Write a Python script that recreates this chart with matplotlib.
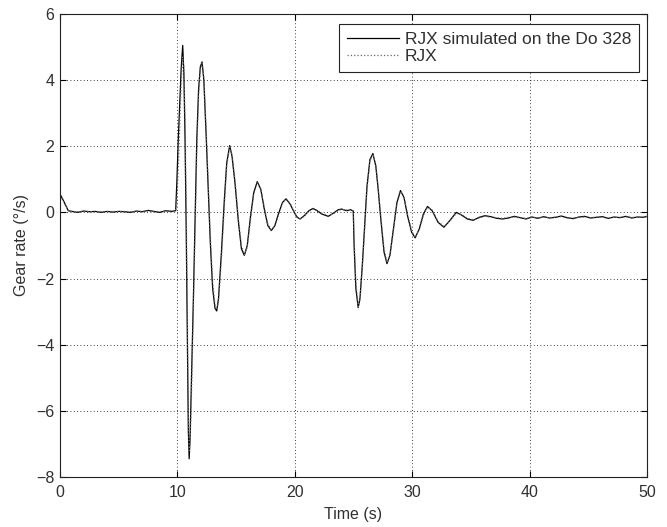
import matplotlib
matplotlib.use("Agg")
import matplotlib.pyplot as plt

plt.rcParams["font.family"] = ["Liberation Sans", "DejaVu Sans"]
plt.rcParams["font.size"] = 11

# time axis (s), shared by both traces
time_s = [
    0.0, 0.3, 0.7, 1.0, 1.5, 2.0, 2.5, 3.0, 3.5, 4.0, 4.5, 5.0, 5.5, 6.0, 6.5,
    7.0, 7.5, 8.0, 8.5, 9.0, 9.5, 9.85,
    9.95, 10.08, 10.22, 10.32, 10.45, 10.55, 10.65, 10.75, 10.85, 10.93, 11.0,
    11.08, 11.2, 11.36, 11.5, 11.65, 11.8, 11.95, 12.1, 12.25, 12.45, 12.65,
    12.8, 13.0, 13.2, 13.35, 13.5, 13.75, 14.0, 14.2, 14.45, 14.65, 14.9, 15.2,
    15.45, 15.7, 15.95, 16.2, 16.5, 16.8, 17.1, 17.4, 17.7, 18.0, 18.3, 18.6,
    18.95, 19.25, 19.6, 19.95, 20.2, 20.45, 20.8, 21.2, 21.55, 21.9, 22.3,
    22.85, 23.3, 23.7, 24.0, 24.4, 24.75, 24.98,
    25.05, 25.2, 25.4, 25.55, 25.75, 25.95, 26.15, 26.4, 26.65, 26.9, 27.1,
    27.35, 27.6, 27.85, 28.1, 28.4, 28.7, 29.0, 29.3, 29.6, 29.95, 30.25, 30.6,
    30.95, 31.3, 31.7, 32.2, 32.7, 33.2, 33.75, 34.2, 34.7, 35.2, 35.7, 36.2,
    36.7, 37.2, 37.7, 38.2, 38.7, 39.2, 39.7, 40.2, 40.7, 41.2, 41.7, 42.2,
    42.7, 43.2, 43.7, 44.2, 44.7, 45.2, 45.7, 46.2, 46.7, 47.2, 47.7, 48.2,
    48.7, 49.2, 49.7, 50.0,
]

# RJX simulated on the Do 328 (deg/s)
rate_sim = [
    0.55, 0.35, 0.05, 0.03, 0.0, 0.04, 0.02, 0.03, 0.0, 0.03, 0.01, 0.03, 0.02,
    0.0, 0.04, 0.02, 0.06, 0.03, 0.0, 0.05, 0.03, 0.05,
    0.9, 2.27, 3.5, 4.35, 5.05, 4.2, 2.2, -0.6, -4.0, -6.6, -7.45,
    -6.8, -5.0, -2.6, -0.3, 2.2, 3.7, 4.4, 4.55, 4.0, 2.3, 0.5,
    -0.9, -2.3, -2.9, -2.98, -2.6, -1.2, 0.4, 1.5, 2.02, 1.7, 0.9, -0.3,
    -1.1, -1.3, -1.0, -0.2, 0.6, 0.93, 0.7, 0.1, -0.4, -0.55, -0.4, -0.05,
    0.3, 0.41, 0.25, 0.0, -0.15, -0.2, -0.1, 0.05, 0.12, 0.05, -0.05,
    -0.12, -0.02, 0.08, 0.1, 0.05, 0.08, 0.04,
    -1.0, -2.3, -2.88, -2.6, -1.6, -0.4, 0.8, 1.6, 1.78, 1.4, 0.7,
    -0.3, -1.2, -1.55, -1.3, -0.5, 0.3, 0.66, 0.45, -0.1, -0.6, -0.77, -0.5,
    -0.05, 0.18, 0.05, -0.3, -0.45, -0.25, 0.0, -0.08, -0.2, -0.24, -0.15, -0.1,
    -0.13, -0.18, -0.2, -0.17, -0.12, -0.16, -0.2, -0.14, -0.18, -0.13, -0.17,
    -0.15, -0.11, -0.16, -0.19, -0.14, -0.12, -0.17, -0.15, -0.13, -0.18,
    -0.14, -0.16, -0.12, -0.17, -0.14, -0.15, -0.12,
]

# RJX measured (deg/s)
rate_rjx = [
    0.52, 0.33, 0.06, 0.02, 0.02, 0.03, 0.03, 0.01, 0.02, 0.02, 0.03, 0.02,
    0.03, 0.02, 0.03, 0.03, 0.04, 0.02, 0.02, 0.04, 0.04, 0.04,
    0.3, 1.4, 2.9, 3.9, 4.7, 4.4, 2.8, 0.2, -3.2, -6.0, -7.2,
    -7.0, -5.5, -3.0, -0.7, 1.8, 3.5, 4.3, 4.5, 4.1, 2.5, 0.7,
    -0.7, -2.1, -2.8, -2.95, -2.7, -1.4, 0.2, 1.4, 1.98, 1.75, 1.0, -0.2,
    -1.0, -1.28, -1.05, -0.3, 0.55, 0.9, 0.72, 0.15, -0.35, -0.53, -0.42, -0.1,
    0.27, 0.4, 0.27, 0.02, -0.13, -0.19, -0.12, 0.03, 0.1, 0.07, -0.03,
    -0.1, -0.04, 0.06, 0.09, 0.07, 0.06, 0.05,
    -0.8, -2.1, -2.85, -2.65, -1.7, -0.5, 0.7, 1.55, 1.76, 1.45, 0.75,
    -0.2, -1.1, -1.52, -1.35, -0.55, 0.25, 0.64, 0.48, -0.05, -0.55, -0.76, -0.52,
    -0.1, 0.16, 0.07, -0.27, -0.43, -0.27, -0.03, -0.06, -0.18, -0.22, -0.17,
    -0.12, -0.15, -0.16, -0.18, -0.15, -0.14, -0.17, -0.18, -0.15, -0.16,
    -0.15, -0.16, -0.14, -0.13, -0.17, -0.17, -0.15, -0.14, -0.16, -0.14,
    -0.15, -0.16, -0.15, -0.15, -0.14, -0.15, -0.15, -0.14, -0.13,
]

x_ticks = [0, 10, 20, 30, 40, 50]
y_ticks = [-8, -6, -4, -2, 0, 2, 4, 6]

text_color = "#303030"

fig = plt.figure(figsize=(6.67, 5.27), dpi=100)
ax = fig.add_axes([0.09, 0.095, 0.88, 0.8785])

ax.plot(time_s, rate_sim, color="black", linewidth=0.9, linestyle="-",
        label="RJX simulated on the Do 328")
ax.plot(time_s, rate_rjx, color="#6a6a6a", linewidth=0.9, linestyle=":",
        label="RJX")

ax.set_xlim(0, 50)
ax.set_ylim(-8, 6)
ax.set_xticks(x_ticks)
ax.set_yticks(y_ticks)
ax.tick_params(direction="in", top=True, right=True, length=4, width=0.8,
               labelsize=11.5, labelcolor=text_color)
ax.tick_params(axis="x", pad=6)
ax.tick_params(axis="y", pad=4)
ax.grid(True, color="black", linestyle=(0, (1, 3)), linewidth=0.6)
for spine in ax.spines.values():
    spine.set_linewidth(0.8)
    spine.set_color("#222222")

ax.set_xlabel("Time (s)", fontsize=11.5, labelpad=5, color=text_color)
ax.set_ylabel("Gear rate (°/s)", fontsize=11.5, labelpad=5, color=text_color)

leg = ax.legend(loc="upper right", bbox_to_anchor=(0.986, 0.978),
                borderaxespad=0, fontsize=12.5, handlelength=3.0,
                fancybox=False, framealpha=1, edgecolor="#222222",
                labelspacing=0.12, handletextpad=0.3, borderpad=0.45)
leg.get_frame().set_linewidth(0.8)
for txt in leg.get_texts():
    txt.set_color(text_color)

fig.savefig("out.png", dpi=100)
